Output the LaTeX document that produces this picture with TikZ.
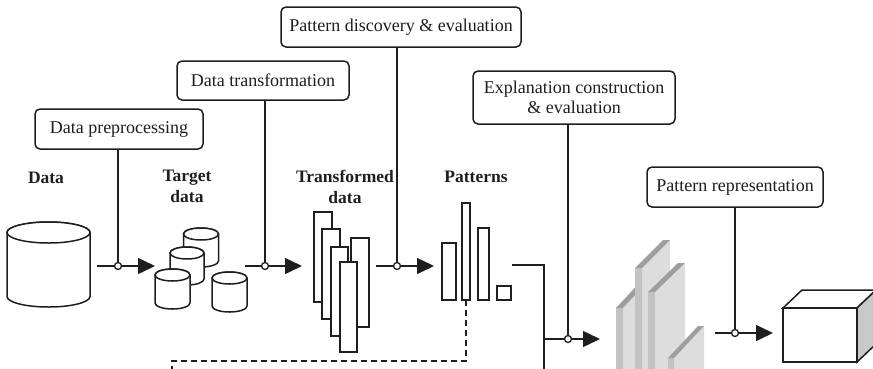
\documentclass[tikz,border=0pt]{standalone}
\usepackage{fontspec}
\setmainfont{Liberation Serif}
\usetikzlibrary{arrows.meta}
\definecolor{ink}{HTML}{1E1E1E}
\definecolor{slabfront}{HTML}{C2C2C2}
\definecolor{slabside}{HTML}{DDDDDD}
\definecolor{slabtop}{HTML}{9E9E9E}
\definecolor{boxside}{HTML}{C8C8C8}
\tikzset{
  stage/.style={draw=ink, rounded corners=5pt, line width=1.5pt, fill=white,
    inner sep=0pt, font=\fontsize{18}{20}\selectfont, align=center, text=ink},
  caption/.style={font=\bfseries\fontsize{17.5}{21}\selectfont, align=center,
    text=ink, inner sep=0pt},
  wire/.style={draw=ink, line width=1.5pt},
  flow/.style={wire, -{Triangle[length=17pt,width=16pt]}},
  junc/.style={circle, draw=ink, fill=white, line width=1.3pt, inner sep=0pt,
    minimum size=7pt},
  outline/.style={draw=ink, line width=1.5pt, fill=white},
  feedback/.style={wire, dash pattern=on 6pt off 4pt},
}
% upright cylinder: centre x, top y, bottom y, x radius, y radius
\newcommand{\tincan}[5]{%
  \filldraw[outline] (#1-#4,#2) -- (#1-#4,#3)
    arc[start angle=180, end angle=0, x radius=#4, y radius=#5]
    -- (#1+#4,#2)
    arc[start angle=0, end angle=-180, x radius=#4, y radius=#5] -- cycle;
  \draw[outline] (#1,#2) ellipse[x radius=#4, y radius=#5];
}
% shaded plate: left x, top y, face width, depth dx, depth dy, bottom y
\newcommand{\plate}[6]{%
  \fill[slabside] (#1+#3,#2) -- (#1+#3+#4,#2-#5) -- (#1+#3+#4,#6-#5) -- (#1+#3,#6) -- cycle;
  \fill[slabfront] (#1,#2) rectangle (#1+#3,#6);
  \fill[slabtop] (#1,#2) -- (#1+#3,#2) -- (#1+#3+#4,#2-#5) -- (#1+#4,#2-#5) -- cycle;
}
\begin{document}
\begin{tikzpicture}[x=1pt, y=-1pt]
\useasboundingbox (0,0) rectangle (873,368);
\clip (0,0) rectangle (873,368);

% process stages
\node[stage, minimum width=168pt, minimum height=40pt] (prep) at (119,129) {Data preprocessing};
\node[stage, minimum width=172pt, minimum height=39pt] (trans) at (263,80.5) {Data transformation};
\node[stage, minimum width=240pt, minimum height=40pt] (disc) at (401,27) {Pattern discovery \& evaluation};
\node[stage, minimum width=202pt, minimum height=53pt] (expl) at (574,97.5) {Explanation construction\\\& evaluation};
\node[stage, minimum width=176pt, minimum height=40pt] (rep) at (735,187) {Pattern representation};

% captions
\node[caption, anchor=base] (lblData) at (46,183) {Data};
\node[caption] (lblTarget) at (187,186) {Target\\data};
\node[caption] (lblTrans) at (345,187) {Transformed\\data};
\node[caption, anchor=base] (lblPat) at (476,182) {Patterns};

% raw data store
\tincan{48.5}{232.5}{296.5}{41.5}{10.5}

% target data stores
\tincan{201}{234}{261}{17.5}{6}
\tincan{187}{253}{279}{17}{6}
\tincan{172.5}{275}{303}{17.5}{6}
\tincan{229.5}{278}{306}{17.5}{6}

% transformed data sheets
\filldraw[outline] (314,212) rectangle (332,302);
\filldraw[outline] (322,229) rectangle (340,319);
\filldraw[outline] (331,247) rectangle (348,336);
\filldraw[outline] (351,238) rectangle (369,327);
\filldraw[outline] (340,262) rectangle (357,352);

% pattern bars
\filldraw[outline] (442,243) rectangle (456,300);
\filldraw[outline] (462,203) rectangle (470,300);
\filldraw[outline] (478,228) rectangle (489,300);
\filldraw[outline] (497,286) rectangle (511,300);

% explained patterns (shaded plates)
\plate{616}{308}{7}{28}{30}{430}
\plate{635}{268}{7}{28}{28}{430}
\plate{648}{292}{7}{30}{29}{430}
\plate{668}{358}{6}{30}{32}{430}

% represented knowledge (box)
\filldraw[outline] (783,308) -- (802,290) -- (876,290) -- (857,308) -- cycle;
\filldraw[outline, fill=boxside] (857,308) -- (876,290) -- (876,344) -- (857,362) -- cycle;
\filldraw[outline] (783,308) rectangle (857,362);

% junctions on the flow
\node[junc] (j1) at (118,266) {};
\node[junc] (j2) at (265,266) {};
\node[junc] (j3) at (397,266) {};
\node[junc] (j4) at (568,339) {};
\node[junc] (j5) at (735,333) {};

\coordinate (s1) at (97,266);   \coordinate (e1) at (155,266);
\coordinate (s2) at (245,266);  \coordinate (e2) at (302,266);
\coordinate (s3) at (376,266);  \coordinate (e3) at (434,266);
\coordinate (c1) at (512,265);  \coordinate (c2) at (544,265);
\coordinate (c3) at (544,372);  \coordinate (b4) at (544,339);
\coordinate (e4) at (600,339);
\coordinate (s5) at (715,333);  \coordinate (e5) at (773,333);

% flow arrows
\draw[wire] (s1) -- (j1.west);  \draw[flow] (j1.east) -- (e1);
\draw[wire] (s2) -- (j2.west);  \draw[flow] (j2.east) -- (e2);
\draw[wire] (s3) -- (j3.west);  \draw[flow] (j3.east) -- (e3);
\draw[wire] (c1) -- (c2) -- (c3);
\draw[wire] (b4) -- (j4.west);  \draw[flow] (j4.east) -- (e4);
\draw[wire] (s5) -- (j5.west);  \draw[flow] (j5.east) -- (e5);

% stage feeds
\draw[wire] (prep.south -| j1) -- (j1.north);
\draw[wire] (trans.south -| j2) -- (j2.north);
\draw[wire] (disc.south -| j3) -- (j3.north);
\draw[wire] (expl.south -| j4) -- (j4.north);
\draw[wire] (rep.south -| j5) -- (j5.north);

% feedback loop
\coordinate (fb0) at (466,300);
\coordinate (fb1) at (172,372);
\draw[feedback] (fb0) -- ++(0,61) -| (fb1);
\end{tikzpicture}
\end{document}
